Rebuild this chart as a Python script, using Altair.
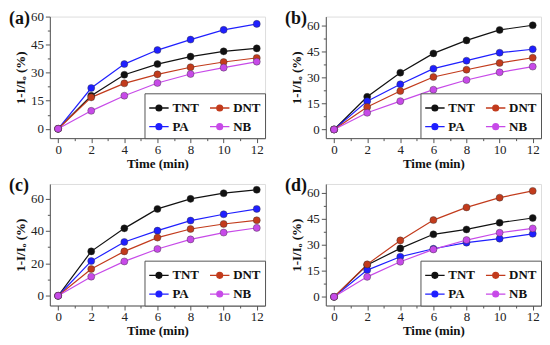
import altair as alt
import pandas as pd

times = [0, 2, 4, 6, 8, 10, 12]
series = ["TNT", "PA", "DNT", "NB"]
colors = ["#111111", "#1f1fff", "#c23b1c", "#c74ae8"]

a_TNT = [0, 17.7, 28.9, 34.6, 38.6, 41.4, 43.0]
a_DNT = [0, 16.8, 24.3, 29.1, 32.9, 35.7, 37.9]
a_PA = [0, 21.8, 34.6, 42.1, 47.7, 52.9, 56.1]
a_NB = [0, 9.6, 17.7, 24.5, 29.3, 32.7, 35.9]

b_TNT = [0, 18.8, 32.7, 43.8, 51.3, 57.3, 60.0]
b_DNT = [0, 12.9, 22.1, 30.2, 34.4, 38.3, 41.3]
b_PA = [0, 16.3, 26.0, 35.0, 39.6, 44.2, 46.2]
b_NB = [0, 9.6, 16.3, 22.9, 28.5, 32.9, 36.2]

c_TNT = [0, 27.4, 41.6, 53.6, 59.8, 63.3, 65.4]
c_DNT = [0, 16.5, 27.4, 35.9, 41.2, 44.3, 46.6]
c_PA = [0, 21.4, 33.2, 40.2, 46.4, 50.3, 53.6]
c_NB = [0, 11.8, 21.2, 28.9, 34.8, 39.0, 41.9]

d_TNT = [0, 18.3, 27.9, 36.0, 38.8, 42.7, 45.4]
d_DNT = [0, 18.7, 32.5, 44.2, 51.5, 57.1, 61.0]
d_PA = [0, 15.4, 23.1, 27.7, 31.2, 33.5, 36.3]
d_NB = [0, 11.5, 20.2, 27.3, 32.7, 36.9, 39.4]

panels = [
    ("(a)", {"TNT": a_TNT, "DNT": a_DNT, "PA": a_PA, "NB": a_NB}, [-5, 60], 15),
    ("(b)", {"TNT": b_TNT, "DNT": b_DNT, "PA": b_PA, "NB": b_NB}, [-5, 65], 15),
    ("(c)", {"TNT": c_TNT, "DNT": c_DNT, "PA": c_PA, "NB": c_NB}, [-6, 69], 20),
    ("(d)", {"TNT": d_TNT, "DNT": d_DNT, "PA": d_PA, "NB": d_NB}, [-5, 65], 15),
]

FONT = "Liberation Serif"
W, H = 216, 122


def panel(label, data, ydom, ystep):
    rows = []
    for s in series:
        for t, v in zip(times, data[s]):
            rows.append({"time": t, "value": v, "series": s})
    df = pd.DataFrame(rows)
    yvals = []
    v = 0.0
    while v <= ydom[1] + 1e-9:
        yvals.append(v)
        v += ystep / 2
    xaxis = alt.Axis(
        values=list(range(0, 13)),
        labelExpr="datum.value % 2 ? '' : datum.label",
        tickSize={"condition": {"test": "datum.value % 2 !== 0", "value": 2.5}, "value": 4.5},
        title="Time (min)", grid=False, labelFont=FONT, labelFontSize=13,
        titleFont=FONT, titleFontSize=13, titleFontWeight="bold",
        labelColor="#222", titleColor="#111", domainColor="#555", tickColor="#555",
        labelPadding=1, titlePadding=1, labelFlush=False,
    )
    yaxis = alt.Axis(
        values=yvals,
        labelExpr=f"datum.value % {ystep} ? '' : datum.label",
        tickSize={"condition": {"test": f"datum.value % {ystep} !== 0", "value": 2.5}, "value": 4.5},
        title="1-I/Iₒ (%)", grid=False, labelFont=FONT, labelFontSize=13,
        titleFont=FONT, titleFontSize=13, titleFontWeight="bold",
        labelColor="#222", titleColor="#111", domainColor="#555", tickColor="#555",
        labelPadding=2, titlePadding=3, labelFlush=False,
    )
    legend = alt.Legend(
        title=None, orient="bottom-right", offset=0, columns=2,
        strokeColor="#555", fillColor="white", padding=4,
        labelFont=FONT, labelFontSize=13, labelFontWeight="bold", labelColor="#111",
        symbolType="M-1,0H1M0.3,0A0.3,0.3,0,1,1,-0.3,0A0.3,0.3,0,1,1,0.3,0",
        symbolSize=380, symbolStrokeWidth=1.3, columnPadding=8, rowPadding=1,
        labelOffset=3,
    )
    base = alt.Chart(df).encode(
        x=alt.X("time:Q", scale=alt.Scale(domain=[-0.5, 12.5], nice=False, zero=False), axis=xaxis),
        y=alt.Y("value:Q", scale=alt.Scale(domain=ydom, nice=False, zero=False), axis=yaxis),
        color=alt.Color("series:N", scale=alt.Scale(domain=series, range=colors), legend=legend),
    )
    lines = base.mark_line(strokeWidth=1.2, point=alt.OverlayMarkDef(filled=True, size=50, stroke="#333", strokeWidth=0.4))
    txt = alt.Chart(pd.DataFrame({"t": [label]})).mark_text(
        font=FONT, fontSize=18, fontWeight="bold", align="left", baseline="top", color="#111"
    ).encode(text="t:N", x=alt.value(-41), y=alt.value(-7))
    return alt.layer(lines, txt).properties(width=W, height=H)


p = [panel(*args) for args in panels]
top = alt.hconcat(p[0], p[1], spacing=18).resolve_scale(y="independent").resolve_legend(color="independent")
bot = alt.hconcat(p[2], p[3], spacing=18).resolve_scale(y="independent").resolve_legend(color="independent")
chart = alt.vconcat(top, bot, spacing=5).resolve_scale(y="independent").resolve_legend(color="independent").properties(
    padding={"top": 0, "left": 0, "right": 0, "bottom": 0}
).configure_view(stroke="#444", strokeWidth=1).configure(background="white")

chart.save("out.html", embed_options={"renderer": "svg", "actions": False})
